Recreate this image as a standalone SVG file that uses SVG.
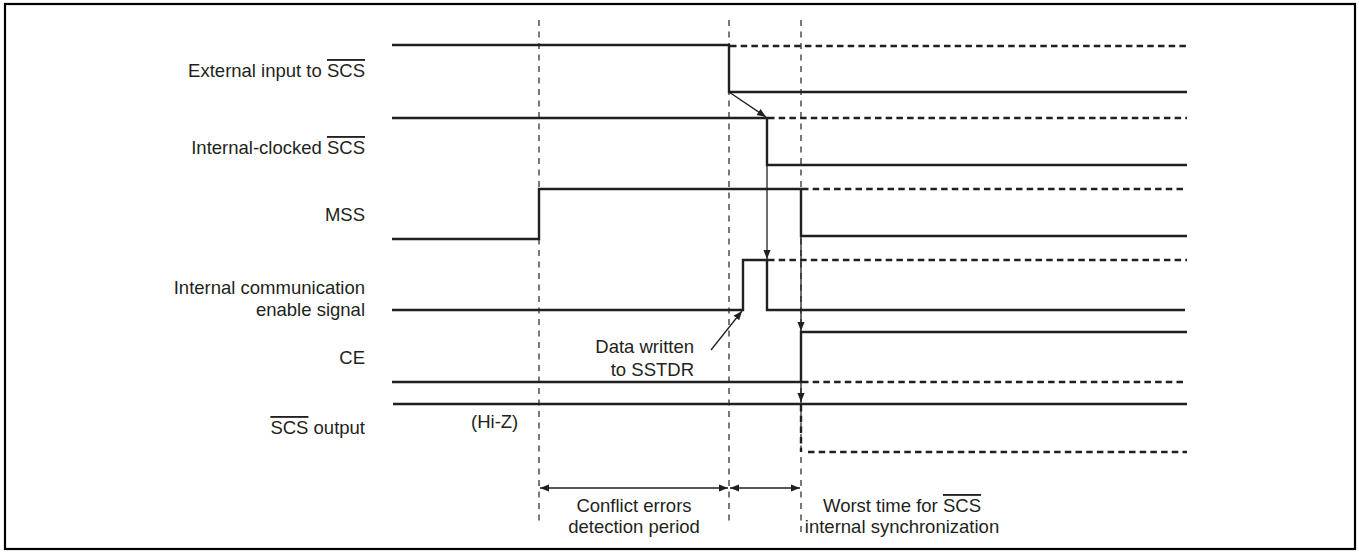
<svg xmlns="http://www.w3.org/2000/svg" width="1359" height="553" viewBox="0 0 1359 553">
<style>
text{font-family:"Liberation Sans",Arial,sans-serif;font-size:18.5px;fill:#231f20}
.lbl{text-anchor:end}
.mid{text-anchor:middle}
.sig{fill:none;stroke:#231f20;stroke-width:2.4;stroke-linejoin:miter}
.sigd{fill:none;stroke:#231f20;stroke-width:2.4;stroke-dasharray:6.5 4.2}
.guide{fill:none;stroke:#231f20;stroke-width:1.2;stroke-dasharray:6 5.5}
.arr{fill:none;stroke:#231f20;stroke-width:1.3}
.ov{text-decoration:overline}
</style>
<defs>
<marker id="ah" viewBox="0 0 10 10" refX="10" refY="5" markerWidth="9" markerHeight="9" markerUnits="userSpaceOnUse" orient="auto-start-reverse">
<path d="M0,1 L10,5 L0,9 z" fill="#231f20"/>
</marker>
</defs>
<rect x="5" y="4" width="1350" height="545" fill="#fff" stroke="#000" stroke-width="2.2"/>

<g id="guides">
<line class="guide" x1="539" y1="20" x2="539" y2="523"/>
<line class="guide" x1="729" y1="20" x2="729" y2="523"/>
<line class="guide" x1="801" y1="20" x2="801" y2="535"/>
</g>

<g id="sig-external">
<text class="lbl" x="365" y="77">External input to <tspan class="ov">SCS</tspan></text>
<polyline class="sig" points="392,45 729,45 729,92 1187,92"/>
<line class="sigd" x1="730" y1="46" x2="1187" y2="46"/>
</g>

<g id="sig-internal-clocked">
<text class="lbl" x="365" y="154">Internal-clocked <tspan class="ov">SCS</tspan></text>
<polyline class="sig" points="392,118 767,118 767,165 1187,165"/>
<line class="sigd" x1="768" y1="118" x2="1187" y2="118"/>
</g>

<g id="sig-mss">
<text class="lbl" x="365" y="221">MSS</text>
<polyline class="sig" points="392,239 539,239 539,189 801,189 801,236 1187,236"/>
<line class="sigd" x1="802" y1="189" x2="1187" y2="189"/>
</g>

<g id="sig-comm">
<text class="lbl" x="365" y="294">Internal communication</text>
<text class="lbl" x="365" y="316">enable signal</text>
<polyline class="sig" points="392,310 743,310 743,260 767,260 767,310 1185,310"/>
<line class="sigd" x1="768" y1="260" x2="1187" y2="260"/>
</g>

<g id="sig-ce">
<text class="lbl" x="365" y="364">CE</text>
<polyline class="sig" points="392,382 801,382 801,332 1187,332"/>
<line class="sigd" x1="802" y1="382" x2="1187" y2="382"/>
</g>

<g id="sig-scs-out">
<text class="lbl" x="365" y="434"><tspan class="ov">SCS</tspan> output</text>
<text x="471" y="428">(Hi-Z)</text>
<line class="sig" x1="393" y1="404" x2="1187" y2="404"/>
<line class="sigd" x1="801" y1="405" x2="801" y2="452"/>
<line class="sigd" x1="808" y1="452" x2="1187" y2="452"/>
</g>

<g id="note-data">
<text class="lbl" x="694" y="353">Data written</text>
<text class="lbl" x="694" y="376">to SSTDR</text>
</g>

<g id="periods">
<text class="mid" x="634" y="512">Conflict errors</text>
<text class="mid" x="634" y="533">detection period</text>
<text class="mid" x="902" y="512">Worst time for <tspan class="ov">SCS</tspan></text>
<text class="mid" x="902" y="533">internal synchronization</text>
</g>

<g id="connectors">
<line class="arr" x1="729" y1="92" x2="766" y2="117" marker-end="url(#ah)"/>
<line class="arr" x1="767" y1="165" x2="767" y2="259" marker-end="url(#ah)"/>
<line class="arr" x1="801" y1="236" x2="801" y2="331" marker-end="url(#ah)"/>
<line class="arr" x1="801" y1="382" x2="801" y2="402" marker-end="url(#ah)"/>
<line class="arr" x1="711" y1="350" x2="742" y2="311" marker-end="url(#ah)"/>
<line class="arr" x1="540" y1="488" x2="728" y2="488" marker-start="url(#ah)" marker-end="url(#ah)"/>
<line class="arr" x1="730" y1="488" x2="800" y2="488" marker-start="url(#ah)" marker-end="url(#ah)"/>
</g>
</svg>
